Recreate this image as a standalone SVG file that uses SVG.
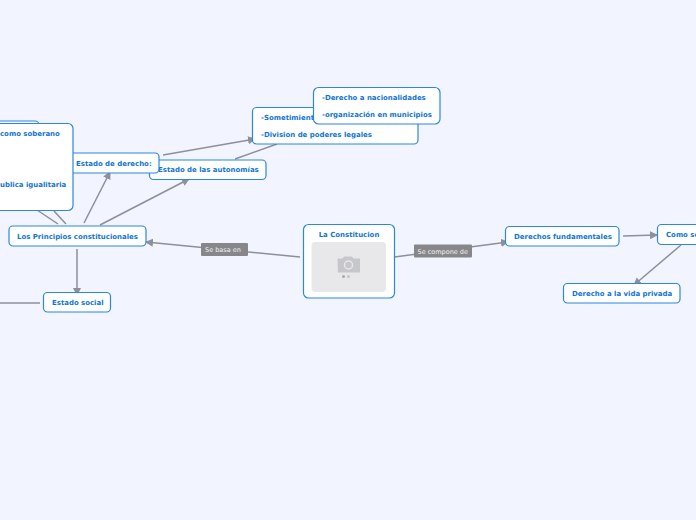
<svg xmlns="http://www.w3.org/2000/svg" width="696" height="520" viewBox="0 0 696 520">
<style>
.n{fill:#fff;stroke:#2b87e3;stroke-width:1.2}
.t{font-family:"DejaVu Sans",Verdana,sans-serif;font-size:6.96px;font-weight:700;fill:#0f74d8}
.c{fill:none;stroke:#8d8f99;stroke-width:1.5}
.lb{fill:#87878a}
.lt{font-family:"DejaVu Sans",Verdana,sans-serif;font-size:6.5px;fill:#f1f1f1}
</style>
<defs>
<marker id="a" markerUnits="userSpaceOnUse" markerWidth="10" markerHeight="10" refX="7" refY="4" orient="auto"><path d="M0 0L8 4L0 8Z" fill="#8d8f99"/></marker>
</defs>
<rect width="696" height="520" fill="#f2f5ff"/>
<g id="connectors">
<path class="c" d="M300 257L146 242" marker-end="url(#a)"/>
<path class="c" d="M394.500 257L508 242" marker-end="url(#a)"/>
<path class="c" d="M623 236L657 235" marker-end="url(#a)"/>
<path class="c" d="M681 245L634 285" marker-end="url(#a)"/>
<path class="c" d="M77 249V295" marker-end="url(#a)"/>
<path class="c" d="M84 223L110 172" marker-end="url(#a)"/>
<path class="c" d="M100 225L189 179" marker-end="url(#a)"/>
<path class="c" d="M58 224L37 210"/>
<path class="c" d="M66 224L54 211"/>
<path class="c" d="M163 155L255 139" marker-end="url(#a)"/>
<path class="c" d="M235 159L277 144"/>
<path class="c" d="M0 303L40 303"/>
</g>
<g id="label-basa"><rect class="lb" x="201" y="243" width="47" height="13" rx="1"/><text class="lt" x="205" y="252">Se basa en</text></g>
<g id="label-compone"><rect class="lb" x="414" y="244.500" width="58" height="13" rx="1"/><text class="lt" x="417.500" y="253.500">Se compone de</text></g>
<g id="node-constitucion"><rect class="n" x="303.500" y="224.500" width="91" height="73.500" rx="5"/><text class="t" x="349" y="237" text-anchor="middle">La Constitucion</text><rect x="311.500" y="242" width="74.500" height="50" rx="4" fill="#e8e8ea"/><path d="M337.500 258.500h5l1.500-2h8l1.500 2h6.500v14h-22z" fill="#c6c7ca"/><circle cx="348.500" cy="265" r="4" fill="none" stroke="#e8e8ea" stroke-width="1.500"/><circle cx="343.500" cy="276.500" r="1.500" fill="#a9aaad"/><circle cx="348.500" cy="276.500" r="1.500" fill="#c4c5c8"/></g>
<g id="node-autonomias"><rect class="n" x="149.500" y="160" width="116.500" height="19.500" rx="4"/><text class="t" x="158" y="172">Estado de las autonomías</text></g>
<g id="node-derecho"><rect class="n" x="60" y="153" width="99" height="20" rx="4"/><text class="t" x="76" y="166">Estado de derecho:</text></g>
<g id="node-back"><rect class="n" x="-20" y="121" width="59" height="20" rx="4"/></g>
<g id="node-soberano"><rect class="n" x="-30" y="123.500" width="103" height="87" rx="5"/><text class="t" x="0" y="136">como soberano</text><text class="t" x="0" y="187">ublica igualitaria</text></g>
<g id="node-principios"><rect class="n" x="9" y="226" width="137" height="20" rx="4"/><text class="t" x="17" y="239">Los Principios constitucionales</text></g>
<g id="node-social"><rect class="n" x="43.500" y="292.500" width="67" height="19.500" rx="4"/><text class="t" x="52" y="305">Estado social</text></g>
<g id="node-sometimiento"><rect class="n" x="252.500" y="107.500" width="165.500" height="36.500" rx="4"/><text class="t" x="261" y="120">-Sometimient</text><text class="t" x="261" y="137">-Division de poderes legales</text></g>
<g id="node-nacionalidades"><rect class="n" x="313.500" y="87.500" width="126.500" height="36.500" rx="5"/><text class="t" x="322" y="100">-Derecho a nacionalidades</text><text class="t" x="322" y="117">-organización en municipios</text></g>
<g id="node-fundamentales"><rect class="n" x="505.500" y="226.500" width="113.500" height="19.500" rx="4"/><text class="t" x="514" y="239">Derechos fundamentales</text></g>
<g id="node-como"><rect class="n" x="657.500" y="224.500" width="60" height="20" rx="4"/><text class="t" x="666" y="237">Como se</text></g>
<g id="node-privada"><rect class="n" x="563.500" y="283.500" width="116.500" height="19.500" rx="4"/><text class="t" x="572" y="296">Derecho a la vida privada</text></g>
</svg>
